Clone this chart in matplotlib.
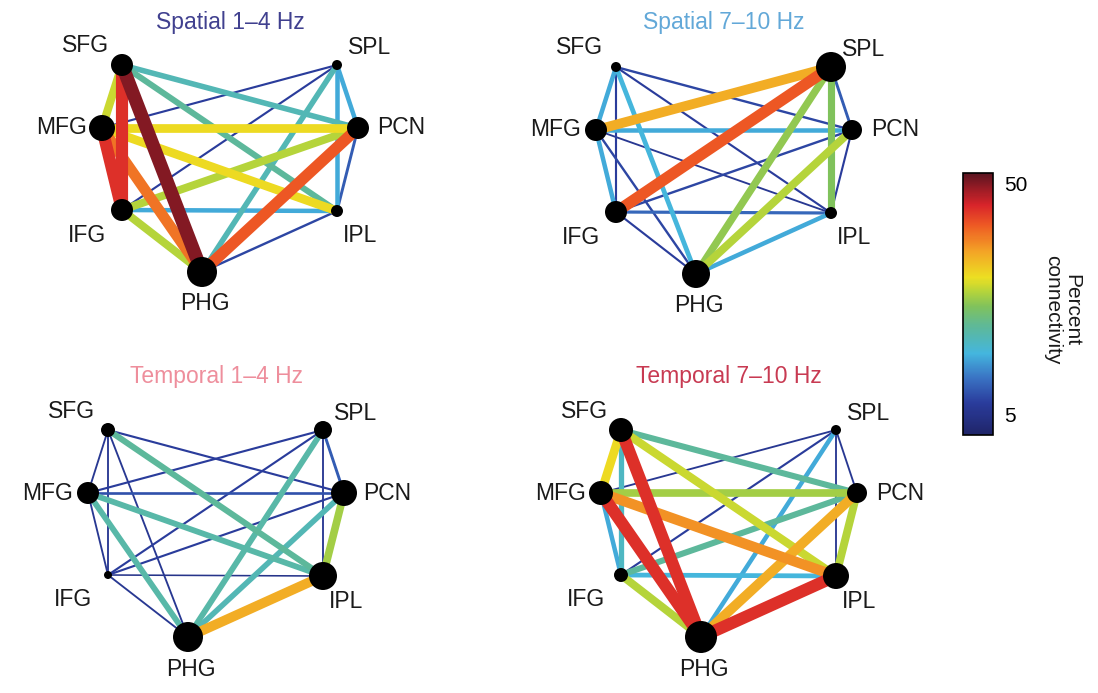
import numpy as np
import matplotlib
matplotlib.use('Agg')
import matplotlib.pyplot as plt
from matplotlib.colors import LinearSegmentedColormap, Normalize
from matplotlib.cm import ScalarMappable

plt.rcParams['font.family'] = ['Liberation Sans', 'DejaVu Sans']

# --- data -------------------------------------------------------------
regioes = ['SFG', 'MFG', 'IFG', 'PHG', 'IPL', 'PCN', 'SPL']

# pares de regioes (ordem fixa); 0 = sem ligacao
pares = [('SFG', 'MFG'), ('SFG', 'IFG'), ('SFG', 'PHG'), ('SFG', 'IPL'), ('SFG', 'PCN'), ('SFG', 'SPL'),
         ('MFG', 'IFG'), ('MFG', 'PHG'), ('MFG', 'IPL'), ('MFG', 'PCN'), ('MFG', 'SPL'),
         ('IFG', 'PHG'), ('IFG', 'IPL'), ('IFG', 'PCN'), ('IFG', 'SPL'),
         ('PHG', 'IPL'), ('PHG', 'PCN'), ('PHG', 'SPL'),
         ('IPL', 'PCN'), ('IPL', 'SPL'),
         ('PCN', 'SPL')]

titulos = ['Spatial 1\u20134 Hz', 'Spatial 7\u201310 Hz', 'Temporal 1\u20134 Hz', 'Temporal 7\u201310 Hz']

# percent connectivity por par
conn_espacial_1_4 = [30, 45, 50, 22, 20, 0, 45, 40, 32, 32, 7, 29, 16, 29, 7, 8, 42, 20, 10, 16, 16]
conn_espacial_7_10 = [16, 7, 17, 7, 8, 0, 16, 8, 6, 16, 36, 7, 11, 8, 42, 16, 29, 27, 7, 26, 10]
conn_temporal_1_4 = [6, 6, 6, 22, 7, 0, 6, 21, 21, 9, 7, 6, 5, 7, 7, 36, 20, 21, 28, 6, 10]
conn_temporal_7_10 = [32, 19, 45, 30, 22, 0, 16, 45, 38, 28, 6, 29, 17, 22, 7, 45, 36, 16, 29, 6, 6]

# peso de cada no (tamanho do circulo)
peso_espacial_1_4 = [11, 13, 11, 15, 6, 11, 5]
peso_espacial_7_10 = [5, 11, 11, 14, 6, 10, 15]
peso_temporal_1_4 = [7, 11, 4, 15, 14, 13, 9]
peso_temporal_7_10 = [12, 12, 7, 16, 13, 10, 5]

conexoes = [conn_espacial_1_4, conn_espacial_7_10, conn_temporal_1_4, conn_temporal_7_10]
pesos = [peso_espacial_1_4, peso_espacial_7_10, peso_temporal_1_4, peso_temporal_7_10]

# --- layout (pixels) --------------------------------------------------
W, H = 1098, 693
layout = {'SFG': (122, 65), 'MFG': (102, 128), 'IFG': (122, 210), 'PHG': (202, 272),
          'IPL': (337, 211), 'PCN': (358, 128), 'SPL': (337, 65)}
# deslocamento do rotulo e alinhamento
rotulos = {'SFG': (-36, -19, 'center'), 'MFG': (-15, 0, 'right'), 'IFG': (-35, 25, 'center'),
           'PHG': (3, 32, 'center'), 'IPL': (23, 25, 'center'), 'PCN': (19, 0, 'left'),
           'SPL': (33, -17, 'center')}
offsets = [(0, 0), (494, 2), (-14, 365), (499, 365)]
titulo_y = [22, 22, 377, 377]
cores_titulo = ['#40408f', '#62a8d8', '#ee8e9c', '#c83a52']

cmap = LinearSegmentedColormap.from_list('conn', [
    (0.00, '#1f2468'), (0.12, '#2a3c9c'), (0.22, '#3a74c4'), (0.31, '#44b6de'),
    (0.41, '#5cb89c'), (0.49, '#80c25c'), (0.55, '#b6d43a'), (0.60, '#ecdf22'),
    (0.70, '#f3a526'), (0.80, '#ee5a24'), (0.88, '#d8242a'), (1.00, '#5a1420')])
norm = Normalize(vmin=1, vmax=52)

fig = plt.figure(figsize=(W / 100, H / 100), dpi=100)
ax = fig.add_axes([0, 0, 1, 1])
ax.set_xlim(0, W)
ax.set_ylim(H, 0)
ax.axis('off')

for k in range(4):
    dx, dy = offsets[k]
    pos = {r: (layout[r][0] + dx, layout[r][1] + dy) for r in regioes}
    # linhas finas primeiro, grossas por cima
    ordem = np.argsort(conexoes[k], kind='stable')
    for i in ordem:
        v = conexoes[k][i]
        if v <= 0:
            continue
        a, b = pares[i]
        ax.plot([pos[a][0], pos[b][0]], [pos[a][1], pos[b][1]],
                color=cmap(norm(v)), lw=0.19 * v + 0.2, solid_capstyle='butt', zorder=2)
    xs = [pos[r][0] for r in regioes]
    ys = [pos[r][1] for r in regioes]
    tam = [(2 * p * 0.72) ** 2 for p in pesos[k]]
    ax.scatter(xs, ys, s=tam, color='black', zorder=5, linewidths=0)
    for r in regioes:
        ox, oy, ha = rotulos[r]
        ax.text(pos[r][0] + ox, pos[r][1] + oy, r, ha=ha, va='center', fontsize=16.5, color='#1a1a1a')
    ax.text(230 + dx, titulo_y[k], titulos[k], ha='center', va='center', fontsize=16.5,
            color=cores_titulo[k])

# barra de cores
cax = fig.add_axes([963 / W, 1 - 435 / H, 30 / W, 262 / H])
cb = fig.colorbar(ScalarMappable(norm=norm, cmap=cmap), cax=cax, ticks=[5, 50])
cb.ax.tick_params(length=0, labelsize=15, pad=8)
cb.outline.set_linewidth(1.2)
fig.text(1062 / W, 1 - 310 / H, 'Percent\nconnectivity', rotation=270, ha='center', va='center',
         fontsize=15, color='#1a1a1a', linespacing=1.0)

plt.savefig('out.png', dpi=100)
